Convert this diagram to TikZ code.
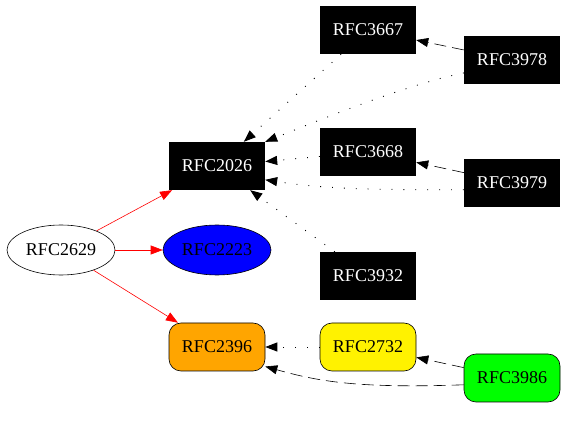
\documentclass[tikz,border=0pt]{standalone}
\usepackage{fontspec}
\setmainfont{Liberation Serif}
\usetikzlibrary{arrows.meta, shapes.geometric}
\definecolor{rfcorange}{RGB}{255,165,0}

\begin{document}
\begin{tikzpicture}[x=1pt, y=-1pt,
	every node/.style={font=\fontsize{18}{20}\selectfont, inner sep=0pt},
	rfcbox/.style={fill=black, text=white, minimum width=96pt, minimum height=48pt},
	rfcround/.style={draw=black, line width=0.6pt, rounded corners=12pt, minimum width=96pt, minimum height=48pt},
	rfcoval/.style={draw=black, line width=0.6pt, ellipse, minimum width=108pt, minimum height=50pt},
	arr/.style={-{Triangle[length=12pt,width=9pt]}},
	redline/.style={arr, color=red, line width=0.6pt},
	dotline/.style={arr, line width=0.9pt, dash pattern=on 0.9pt off 11pt},
	dashline/.style={arr, line width=0.6pt, dash pattern=on 12pt off 6pt}]
	\useasboundingbox (0,0) rectangle (565,427);
	\node[rfcbox] (RFC3667) at (368,30) {RFC3667};
	\node[rfcbox] (RFC3978) at (512,60) {RFC3978};
	\node[rfcbox] (RFC2026) at (217,166) {RFC2026};
	\node[rfcbox] (RFC3668) at (368,152) {RFC3668};
	\node[rfcbox] (RFC3979) at (512,183) {RFC3979};
	\node[rfcbox] (RFC3932) at (368,276) {RFC3932};
	\node[rfcoval] (RFC2629) at (61,250) {RFC2629};
	\node[rfcoval, fill=blue] (RFC2223) at (217,250) {RFC2223};
	\node[rfcround, fill=rfcorange] (RFC2396) at (217,347) {RFC2396};
	\node[rfcround, fill=yellow] (RFC2732) at (368,347) {RFC2732};
	\node[rfcround, fill=green] (RFC3986) at (512,378) {RFC3986};
	\draw[redline] (RFC2629) -- (RFC2026);
	\draw[redline] (RFC2629) -- (RFC2223);
	\draw[redline] (RFC2629) -- (RFC2396);
	\draw[dotline] (RFC3667) -- (RFC2026);
	\draw[dotline] (RFC3978.195) .. controls +(-60,12) and +(40,-16) .. (RFC2026.north east);
	\draw[dotline] (RFC3668) -- (RFC2026);
	\draw[dotline] (RFC3979.188) .. controls +(-100,0) and +(60,9) .. (RFC2026.344);
	\draw[dotline] (RFC3932) -- (RFC2026);
	\draw[dashline] (RFC3978) -- (RFC3667);
	\draw[dashline] (RFC3979) -- (RFC3668);
	\draw[dotline] (RFC2732) -- (RFC2396);
	\draw[dashline] (RFC3986) -- (RFC2732);
	\draw[dashline] (RFC3986.188) .. controls +(-110,4) and +(50,14) .. (RFC2396.-22);
\end{tikzpicture}
\end{document}
